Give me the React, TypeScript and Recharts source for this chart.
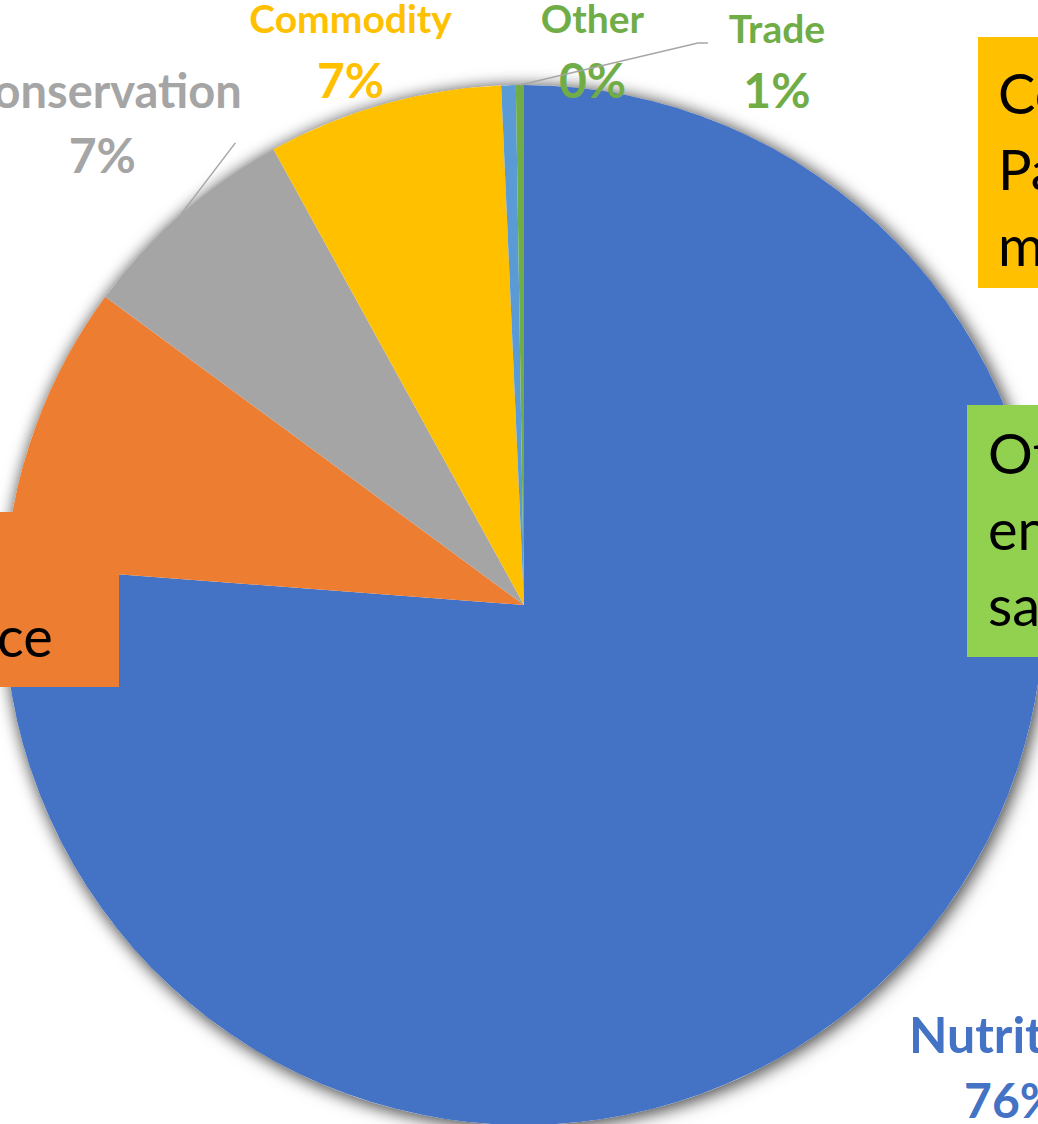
import { PieChart, Pie, Cell } from 'recharts';

// farm bill spending shares, clockwise from 12 o'clock
const programs = ['Nutrition', 'Crop Insurance', 'Conservation', 'Commodity', 'Other', 'Trade'];
const shares = [76.2, 8.9, 6.9, 7.3, 0.45, 0.25];
const shareLabels = ['76%', '9%', '7%', '7%', '0%', '1%'];
const sliceColors = ['#4472C4', '#ED7D31', '#A5A5A5', '#FFC000', '#5B9BD5', '#70AD47'];
const labelColors = ['#4472C4', '#ED7D31', '#A5A5A5', '#FFC000', '#70AD47', '#70AD47'];

const pieData = programs.map((name, i) => ({ name, value: shares[i] }));
const shadowDisc = [{ name: 'backdrop', value: 1 }];

// label offset from the slice's outer-edge midpoint (crop insurance sits under its callout box)
const labelNudge: Record<string, [number, number] | null> = {
  Nutrition: [134, 94],
  'Crop Insurance': null,
  Conservation: [-79, -79],
  Commodity: [-33, -44],
  Other: [84, -25],
  Trade: [257, -15],
};
const nameSize: Record<string, number> = { Nutrition: 50, Conservation: 47 };

// leader line bends, relative to the label centre
const leaders: Record<string, [number, number][]> = {
  Conservation: [[133, 8]],
  Trade: [[-79, -27], [-69, -27]],
};

const RAD = Math.PI / 180;
const FONT = 'Lato, "Open Sans", sans-serif';

const renderLabel = (props: any) => {
  const { cx, cy, midAngle, outerRadius } = props;
  const index = typeof props.index === 'number' ? props.index : programs.indexOf(props.name);
  const name = programs[index];
  const nudge = labelNudge[name];
  if (!nudge) return null;
  const ex = cx + outerRadius * Math.cos(-midAngle * RAD);
  const ey = cy + outerRadius * Math.sin(-midAngle * RAD);
  const lx = ex + nudge[0];
  const ly = ey + nudge[1];
  const leader = leaders[name];
  const pts = leader
    ? [[ex, ey], ...leader.map(([a, b]) => [lx + a, ly + b])].map((p) => p.join(',')).join(' ')
    : '';
  return (
    <g key={`label-${index}`}>
      {leader && <polyline points={pts} fill="none" stroke="#A6A6A6" strokeWidth={1.5} />}
      <text x={lx} y={ly - 27} textAnchor="middle" fill={labelColors[index]} fontSize={nameSize[name] ?? 39} fontWeight={700} fontFamily={FONT}>
        {name}
      </text>
      <text x={lx} y={ly + 38} textAnchor="middle" fill={labelColors[index]} fontSize={48} fontWeight={700} fontFamily={FONT}>
        {shareLabels[index]}
      </text>
    </g>
  );
};

const boxText: React.CSSProperties = {
  position: 'absolute',
  boxSizing: 'border-box',
  fontFamily: FONT,
  fontSize: 56,
  lineHeight: '76px',
  color: '#000',
  whiteSpace: 'nowrap',
};

const App = () => {
  return (
    <div style={{ position: 'absolute', left: 0, top: 0, width: 1038, height: 1124, overflow: 'hidden', background: '#fff' }}>
      <style>{`.pie-shadow { filter: drop-shadow(2px 2px 8px rgba(0,0,0,0.45)); }`}</style>
      <PieChart width={1038} height={1124} margin={{ top: 0, right: 0, bottom: 0, left: 0 }}>
        <Pie
          data={shadowDisc}
          dataKey="value"
          cx={524}
          cy={605}
          outerRadius={520}
          fill="#ffffff"
          stroke="none"
          className="pie-shadow"
          isAnimationActive={false}
        />
        <Pie
          data={pieData}
          dataKey="value"
          nameKey="name"
          cx={524}
          cy={605}
          outerRadius={520}
          startAngle={90}
          endAngle={-270}
          stroke="none"
          label={renderLabel}
          labelLine={false}
          isAnimationActive={false}
        >
          {pieData.map((d, i) => (
            <Cell key={d.name} fill={sliceColors[i]} />
          ))}
        </Pie>
      </PieChart>

      <div style={{ ...boxText, left: 978, top: 37, width: 300, height: 251, background: '#FFC000', padding: '18px 0 0 20px' }}>
        Commodity
        <br />
        Payments
        <br />
        made to farms
      </div>
      <div style={{ ...boxText, left: 967, top: 405, width: 300, height: 252, background: '#92D050', padding: '10px 0 0 21px' }}>
        Other:
        <br />
        energy, forestry,
        <br />
        safety
      </div>
      <div style={{ ...boxText, left: -204, top: 512, width: 323, height: 175, background: '#ED7D31', padding: '10px 0 0 20px' }}>
        Crop
        <br />
        Insurance
      </div>
    </div>
  );
};

export default App;
